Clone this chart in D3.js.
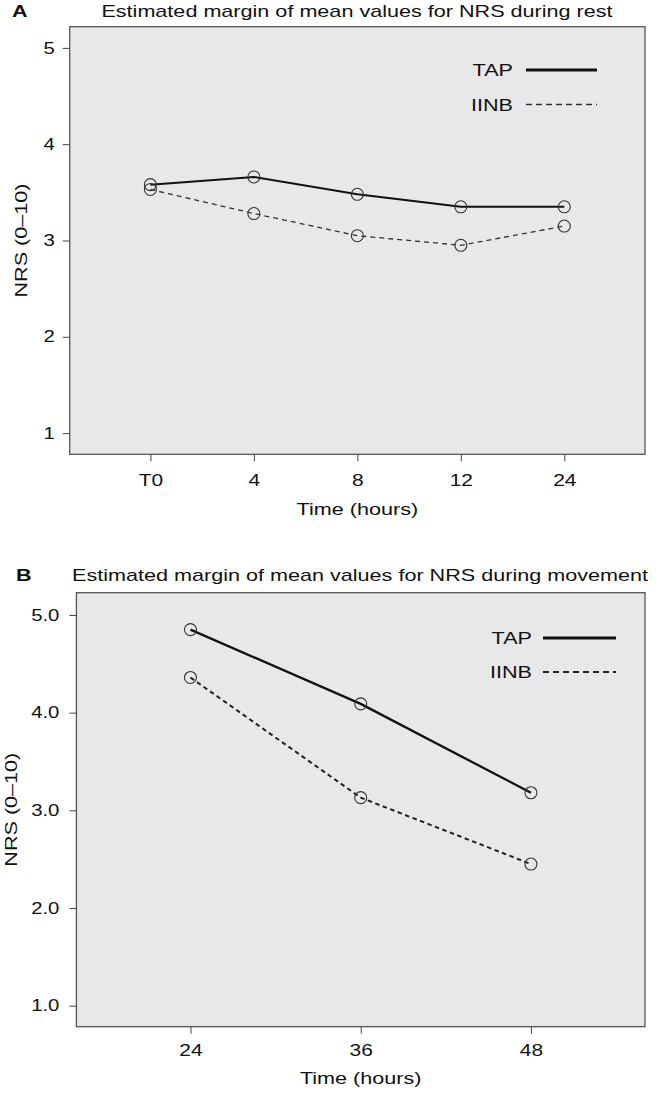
<!DOCTYPE html>
<html><head><meta charset="utf-8">
<script src="https://cdn.jsdelivr.net/npm/d3@7"></script>
<style>
body{margin:0;background:#fff}
svg{display:block}
text{font-family:"Liberation Sans",Arial,sans-serif;fill:#111}
</style>
</head><body>
<svg id="c" width="658" height="1094"></svg>
<script>
// ---- data ----
const timesA = ["T0", "4", "8", "12", "24"];
const tapA = [3.58, 3.66, 3.48, 3.35, 3.35];
const iinbA = [3.53, 3.28, 3.05, 2.95, 3.15];
const yTicksA = [1, 2, 3, 4, 5];

const timesB = ["24", "36", "48"];
const tapB = [4.85, 4.09, 3.18];
const iinbB = [4.36, 3.13, 2.45];
const yTicksB = [1, 2, 3, 4, 5];

const seriesNames = ["TAP", "IINB"];
const titleA = "Estimated margin of mean values for NRS during rest";
const titleB = "Estimated margin of mean values for NRS during movement";
const xLabel = "Time (hours)";
const yLabel = "NRS (0\u201310)";

const svg = d3.select("#c");
const K = 1.27; // horizontal glyph stretch of the reference lettering

function stretch(sel){
  sel.each(function(){
    const L = this.getComputedTextLength();
    this.setAttribute("textLength", L*K);
    this.setAttribute("lengthAdjust","spacingAndGlyphs");
  });
}

function drawPanel(c){
  const g = svg.append("g");
  const x = d3.scalePoint().domain(c.times).range([c.l, c.r]).padding(c.pad);
  const y = d3.scaleLinear().domain(c.yDom).range([c.b, c.t]);

  g.append("rect").attr("x", c.l).attr("y", c.t).attr("width", c.r-c.l).attr("height", c.b-c.t)
    .attr("fill", "#e8e8ea").attr("stroke", "#555").attr("stroke-width", 1.3);

  const ya = g.append("g").attr("transform", `translate(${c.l},0)`)
    .call(d3.axisLeft(y).tickValues(c.yTicks).tickSize(7).tickPadding(c.yPad).tickFormat(d3.format(c.fmt)));
  ya.select(".domain").remove();
  ya.selectAll("line").attr("stroke", "#444");
  ya.selectAll("text").attr("font-size", 16).attr("fill", "#111").style("font-family", '"Liberation Sans",Arial,sans-serif');

  const xa = g.append("g").attr("transform", `translate(0,${c.b})`)
    .call(d3.axisBottom(x).tickSize(7).tickPadding(c.xPad));
  xa.select(".domain").remove();
  xa.selectAll("line").attr("stroke", "#444");
  xa.selectAll("text").attr("font-size", 16.5).attr("fill", "#111").style("font-family", '"Liberation Sans",Arial,sans-serif');

  const line = d3.line().x((d,i) => x(c.times[i])).y(d => y(d));
  g.append("path").datum(c.iinb).attr("d", line).attr("fill", "none")
    .attr("stroke", c.dashColor).attr("stroke-width", c.dashW).attr("stroke-dasharray", c.dash);
  g.append("path").datum(c.tap).attr("d", line).attr("fill", "none")
    .attr("stroke", "#111").attr("stroke-width", c.solidW);

  [c.tap, c.iinb].forEach(s => {
    g.selectAll(null).data(s).enter().append("circle")
      .attr("cx", (d,i) => x(c.times[i])).attr("cy", d => y(d)).attr("r", 6)
      .attr("fill", "none").attr("stroke", "#333").attr("stroke-width", 1.1);
  });

  // legend
  const lg = g.append("g");
  c.legY.forEach((ly, i) => {
    lg.append("text").attr("x", c.legTextX).attr("y", ly + 6).attr("text-anchor", "end")
      .attr("font-size", 17).text(seriesNames[i]);
    lg.append("line").attr("x1", c.legL0).attr("x2", c.legL1).attr("y1", ly).attr("y2", ly)
      .attr("stroke", i === 0 ? "#111" : c.dashColor)
      .attr("stroke-width", i === 0 ? c.legSolidW : c.dashW)
      .attr("stroke-dasharray", i === 0 ? null : c.legDash);
  });

  // titles
  g.append("text").attr("x", c.letterX).attr("y", c.titleY).attr("font-size", 17)
    .attr("font-weight", "bold").text(c.letter);
  g.append("text").attr("x", c.titleX).attr("y", c.titleY).attr("font-size", 17)
    .attr("text-anchor", "middle").text(c.title);
  g.append("text").attr("x", (c.l+c.r)/2).attr("y", c.xLabY).attr("font-size", 17)
    .attr("text-anchor", "middle").text(xLabel);
  g.append("text").attr("transform", `translate(${c.yLabX},${(c.t+c.b)/2}) rotate(-90)`)
    .attr("font-size", 17).attr("text-anchor", "middle").text(yLabel);

  stretch(g.selectAll("text"));
}

drawPanel({
  times: timesA, tap: tapA, iinb: iinbA, yTicks: yTicksA, fmt: "d",
  l: 69.7, r: 645, t: 26.7, b: 454.3, pad: 0.78, yDom: [0.78, 5.22],
  yPad: 8, xPad: 13,
  dash: "5,4", dashW: 1.3, dashColor: "#333", solidW: 2,
  legY: [70, 104.5], legTextX: 513, legL0: 526, legL1: 597, legSolidW: 3, legDash: "6,4",
  letter: "A", letterX: 12, title: titleA, titleX: 357, titleY: 17,
  xLabY: 515, yLabX: 27
});

drawPanel({
  times: timesB, tap: tapB, iinb: iinbB, yTicks: yTicksB, fmt: ".1f",
  l: 76.4, r: 645, t: 592.7, b: 1026.7, pad: 0.67, yDom: [0.785, 5.228],
  yPad: 10, xPad: 11,
  dash: "4.5,3.5", dashW: 2, dashColor: "#222", solidW: 2.3,
  legY: [638, 672], legTextX: 532, legL0: 543, legL1: 616, legSolidW: 3, legDash: "6,4",
  letter: "B", letterX: 16, title: titleB, titleX: 360, titleY: 581,
  xLabY: 1084, yLabX: 17
});
</script>
</body></html>
